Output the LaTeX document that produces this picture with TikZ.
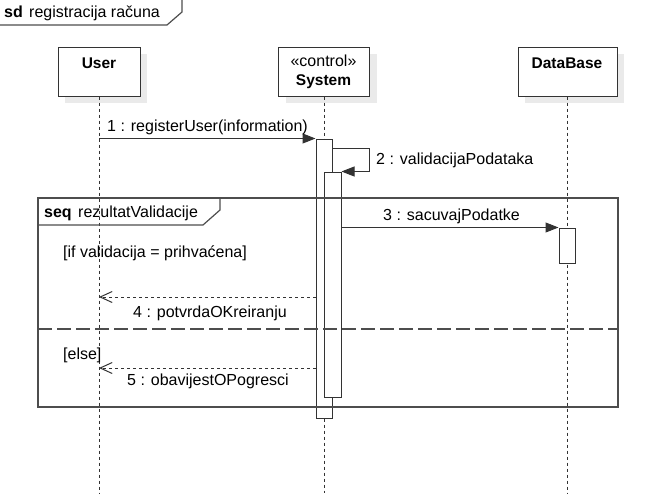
\documentclass[tikz,border=0pt]{standalone}
\usepackage{fontspec}
\setmainfont{Liberation Sans}
\usetikzlibrary{arrows.meta,shadows}
\definecolor{ln}{HTML}{333333}
\definecolor{fr}{HTML}{4D4D4D}
\begin{document}
\begin{tikzpicture}[x=1pt,y=-1pt,
  txt/.style={inner sep=0pt, anchor=base west, font=\fontsize{16}{19}\selectfont},
  btxt/.style={inner sep=0pt, anchor=base, font=\fontsize{15.5}{18}\selectfont\bfseries},
  headbox/.style={draw=ln, line width=1pt, fill=white, minimum height=49pt, inner sep=0pt,
    drop shadow={shadow xshift=7pt, shadow yshift=-7pt, fill=black!16}},
  actbar/.style={draw=ln, line width=1pt, fill=white, inner sep=0pt, minimum width=16pt},
  life/.style={draw=ln, line width=1pt, dash pattern=on 3pt off 3pt},
  sync/.style={draw=ln, line width=1pt, -{Triangle[length=13pt,width=10pt]}},
  ret/.style={draw=ln, line width=1pt, dash pattern=on 3pt off 3pt, -{Straight Barb[length=12pt,width=11pt]}},
  framebox/.style={draw=fr, line width=1.2pt, inner sep=0pt}
]
\useasboundingbox (0,0) rectangle (659,493);

% sd frame label
\coordinate (sdA) at (0,25);
\coordinate (sdB) at (167,25);
\coordinate (sdC) at (182,12);
\coordinate (sdD) at (182,0);
\draw[fr, line width=1.2pt] (sdA) -- (sdB) -- (sdC) -- (sdD);
\node[txt, font=\fontsize{16}{19}\selectfont\bfseries] (sdk) at (4,17) {sd};
\node[txt] (sdname) at (29,17) {registracija računa};

% lifeline heads
\node[headbox, minimum width=82pt] (user) at (99,71.5) {};
\node[headbox, minimum width=91pt] (sys) at (324,71.5) {};
\node[headbox, minimum width=99pt] (db) at (567.5,71.5) {};
\node[btxt] (userlbl) at (99,68.3) {User};
\node[inner sep=0pt, anchor=base, font=\fontsize{16}{19}\selectfont] (syss) at (323.5,66) {«control»};
\node[btxt] (syslbl) at (323.5,85) {System};
\node[btxt] (dblbl) at (567,68.3) {DataBase};

% lifeline ends
\coordinate (userend) at (99,493);
\coordinate (sysend) at (324,493);
\coordinate (dbend) at (567.5,493);

% activation bars
\node[actbar, minimum height=279pt] (act1) at (324,278.5) {};
\node[actbar, minimum width=17pt, minimum height=225pt] (act2) at (332.5,284.5) {};

% lifelines
\draw[life] (user.south) -- (userend);
\draw[life] (sys.south) -- (act1.north);
\draw[life] (act1.south) -- (sysend);
\draw[life] (db.south) -- (dbend);

\node[actbar, minimum height=35pt] (act3) at (567,245.5) {};

% combined fragment
\node[framebox, minimum width=580pt, minimum height=209pt] (seqfr) at (328,302.5) {};
\coordinate (sqA) at (38,225);
\coordinate (sqB) at (203,225);
\coordinate (sqC) at (220,210);
\coordinate (sqD) at (220,198);
\draw[fr, line width=1.2pt] (sqA) -- (sqB) -- (sqC) -- (sqD);
\coordinate (divL) at (38,329);
\coordinate (divR) at (618,329);
\draw[fr, line width=1.2pt, dash pattern=on 14pt off 5pt] (divL) -- (divR);
\node[txt, font=\fontsize{16}{19}\selectfont\bfseries] (seqk) at (44,217) {seq};
\node[txt] (seqname) at (78,217) {rezultatValidacije};
\node[txt] (g1) at (63,257) {[if validacija = prihvaćena]};
\node[txt] (g2) at (63,359) {[else]};

% messages
\draw[sync] (user.south |- act1.north) -- (act1.north west);
\node[txt] (m1) at (107,131) {1 : registerUser(information)};

\coordinate (s2a) at (332,148);
\coordinate (s2b) at (369,148);
\draw[sync] (s2a) -- (s2b) |- (act2.north east);
\node[txt] (m2) at (376,164) {2 : validacijaPodataka};

\draw[sync] (act2.east |- act3.north) -- (act3.north west);
\node[txt] (m3) at (383,220) {3 : sacuvajPodatke};

\coordinate (y4) at (0,297);
\draw[ret] (act1.west |- y4) -- (user.south |- y4);
\node[txt] (m4) at (133,317) {4 : potvrdaOKreiranju};

\coordinate (y5) at (0,368);
\draw[ret] (act1.west |- y5) -- (user.south |- y5);
\node[txt] (m5) at (127,385) {5 : obavijestOPogresci};

\end{tikzpicture}
\end{document}
